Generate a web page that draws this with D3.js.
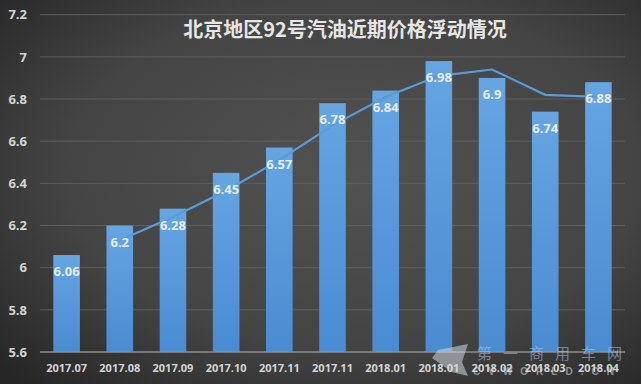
<!DOCTYPE html>
<html><head><meta charset="utf-8">
<script src="https://cdn.jsdelivr.net/npm/d3@7"></script>
<style>html,body{margin:0;padding:0;background:#3a3a3a;}svg{display:block;}</style>
</head><body>
<svg id="c" width="641" height="384"></svg>
<script>
const categories = ["2017.07","2017.08","2017.09","2017.10","2017.11","2017.11","2018.01","2018.01","2018.02","2018.03","2018.04"];
const prices = [6.06, 6.2, 6.28, 6.45, 6.57, 6.78, 6.84, 6.98, 6.9, 6.74, 6.88];
const priceLabels = ["6.06","6.2","6.28","6.45","6.57","6.78","6.84","6.98","6.9","6.74","6.88"];
const trend = [null, 6.13, 6.24, 6.365, 6.51, 6.675, 6.81, 6.91, 6.94, 6.82, 6.81];
const yTicks = [5.6, 5.8, 6, 6.2, 6.4, 6.6, 6.8, 7, 7.2];
const title = "北京地区92号汽油近期价格浮动情况";

const W = 641, H = 384;
const m = {left: 40, right: 16, top: 14.7, bottom: 32};
const svg = d3.select("#c");
const defs = svg.append("defs");

const bg = defs.append("radialGradient").attr("id","bg").attr("cx","55%").attr("cy","45%").attr("r","75%");
bg.append("stop").attr("offset","0%").attr("stop-color","#525252");
bg.append("stop").attr("offset","60%").attr("stop-color","#444444");
bg.append("stop").attr("offset","100%").attr("stop-color","#262626");
const bar = defs.append("linearGradient").attr("id","bar").attr("x1",0).attr("y1",0).attr("x2",0).attr("y2",1);
bar.append("stop").attr("offset","0%").attr("stop-color","#66a5e2");
bar.append("stop").attr("offset","100%").attr("stop-color","#4a8bd1");

svg.append("rect").attr("width",W).attr("height",H).attr("fill","url(#bg)");

const x = d3.scaleBand().domain(d3.range(categories.length)).range([m.left, W - m.right]).paddingInner(0.5).paddingOuter(0.25);
const y = d3.scaleLinear().domain([5.6, 7.2]).range([H - m.bottom, m.top]);

// gridlines
svg.append("g").selectAll("line").data(yTicks.slice(1)).join("line")
  .attr("x1", m.left).attr("x2", W - m.right)
  .attr("y1", d => y(d)).attr("y2", d => y(d))
  .attr("stroke", "#5e5e5e").attr("stroke-width", 1);

// y axis labels
const yAxis = d3.axisLeft(y).tickValues(yTicks).tickFormat(d => d3.format("~g")(d)).tickSize(0).tickPadding(0);
const gy = svg.append("g").attr("transform", `translate(${m.left - 13},0)`).call(yAxis);
gy.select(".domain").remove();
gy.selectAll("text").attr("fill","#d4d4d4").attr("font-family","Open Sans, Liberation Sans, sans-serif")
  .attr("font-weight","bold").attr("font-size", 13);

// bars
svg.append("g").selectAll("rect").data(prices).join("rect")
  .attr("x", (d,i) => x(i)).attr("width", x.bandwidth())
  .attr("y", d => y(d)).attr("height", d => y(5.6) - y(d))
  .attr("fill", "url(#bar)");

// axis line
svg.append("line").attr("x1", m.left).attr("x2", W - m.right)
  .attr("y1", y(5.6)).attr("y2", y(5.6)).attr("stroke","#8c8c8c").attr("stroke-width",1.5);

// x labels
const xAxis = d3.axisBottom(x).tickFormat(i => categories[i]).tickSize(0).tickPadding(12);
const gx = svg.append("g").attr("transform", `translate(0,${y(5.6)})`).call(xAxis);
gx.select(".domain").remove();
gx.selectAll("text").attr("fill","#d4d4d4").attr("font-family","Open Sans, Liberation Sans, sans-serif")
  .attr("font-weight","bold").attr("font-size", 11);

// trend line
const line = d3.line().defined(d => d != null)
  .x((d,i) => x(i) + x.bandwidth()/2).y(d => y(d));
svg.append("path").datum(trend).attr("d", line)
  .attr("fill","none").attr("stroke","#5b9bd5").attr("stroke-width",2.2);

// bar labels
svg.append("g").selectAll("text").data(prices).join("text")
  .attr("x", (d,i) => x(i) + x.bandwidth()/2).attr("y", d => y(d) + 21)
  .attr("text-anchor","middle").attr("fill","#e4ecf5")
  .attr("font-family","Open Sans, Liberation Sans, sans-serif").attr("font-weight","bold").attr("font-size", 13)
  .text((d,i) => priceLabels[i]);

// title
svg.append("text").attr("x", 345).attr("y", 37).attr("text-anchor","middle")
  .attr("fill","#e6e6e6").attr("font-family","Noto Sans CJK SC, sans-serif").attr("font-weight","bold")
  .attr("font-size", 20).text(title);

// watermark
const wm = svg.append("g").attr("opacity", 0.55);
wm.append("path").attr("d","M 468 344 L 438 350 L 432 358 L 452 372 L 468 376 L 462 362 Z").attr("fill","#cfd8e0");
wm.append("text").attr("x", 477).attr("y", 359).attr("fill","#a9c8ea").attr("font-family","Noto Sans CJK SC, sans-serif")
  .attr("font-size", 15).attr("letter-spacing", 11).text("第一商用车网");
wm.append("text").attr("x", 473).attr("y", 375).attr("fill","#d8dde2").attr("font-family","Liberation Sans, sans-serif")
  .attr("font-weight","bold").attr("font-size", 10).attr("letter-spacing", 8).text("CVWORLD.CN");
</script>
</body></html>
